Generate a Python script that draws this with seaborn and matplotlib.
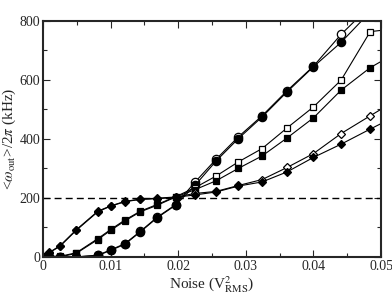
import numpy as np
import pandas as pd
import matplotlib
matplotlib.use('Agg')
import matplotlib.pyplot as plt
import seaborn as sns

# noise values (V_RMS^2)
noise = [0, 0.0009, 0.0025, 0.0049, 0.0081, 0.01, 0.0121, 0.0144, 0.0169,
         0.0196, 0.0225, 0.0256, 0.0289, 0.0324, 0.0361, 0.04, 0.0441, 0.0484, 0.0529]

# output frequency (kHz)
circle_open = [0, 0, 0, 0, 6, 24, 45, 87, 135, 177, 254, 331, 407, 478, 563, 646, 754, 850, 950]
circle_filled = [0, 0, 0, 0, 5, 22, 43, 85, 133, 175, 243, 325, 401, 474, 559, 644, 727, 830, 930]
square_open = [0, 3, 2, 14, 62, 93, 125, 155, 178, 204, 235, 274, 322, 367, 437, 508, 599, 763, 775]
square_filled = [0, 2, 0, 12, 59, 90, 122, 153, 175, 203, 228, 258, 300, 342, 403, 471, 565, 641, 700]
diamond_open = [0, 15, 38, 92, 155, 173, 188, 196, 199, 203, 215, 222, 242, 262, 303, 350, 418, 478, 540]
diamond_filled = [0, 14, 36, 90, 153, 172, 187, 195, 197, 202, 210, 220, 240, 254, 288, 337, 382, 433, 485]

series = [
    (circle_open, 'o', 'white', 6),
    (circle_filled, 'o', 'black', 6),
    (square_open, 's', 'white', 5),
    (square_filled, 's', 'black', 5),
    (diamond_open, 'D', 'white', 4.5),
    (diamond_filled, 'D', 'black', 4.5),
]

sns.set_style('ticks')
plt.rcParams['font.family'] = ['Liberation Serif', 'DejaVu Serif']
plt.rcParams['mathtext.fontset'] = 'stix'

fig = plt.figure(figsize=(3.92, 2.96), dpi=100)
ax = fig.add_axes([0.110, 0.132, 0.862, 0.798])

for vals, mk, face, ms in series:
    sns.lineplot(x=noise, y=vals, ax=ax, color='black', linewidth=0.8,
                 marker=mk, markersize=ms, markerfacecolor=face,
                 markeredgecolor='black', markeredgewidth=0.9)

ax.axhline(200, color='black', linestyle='--', linewidth=1.0, dashes=(5, 3))

ax.set_xlim(0, 0.05)
ax.set_ylim(0, 800)
ax.set_xticks([0, 0.01, 0.02, 0.03, 0.04, 0.05])
ax.set_xticklabels(['0', '0.01', '0.02', '0.03', '0.04', '0.05'])
ax.set_yticks([0, 200, 400, 600, 800])
ax.set_xticks(np.arange(0, 0.0501, 0.005), minor=True)
ax.set_yticks(np.arange(0, 801, 100), minor=True)
ax.tick_params(which='both', direction='in', top=True, right=True, labelsize=10, pad=2)
ax.tick_params(which='major', length=5, width=0.8)
ax.tick_params(which='minor', length=3, width=0.8)
for s in ax.spines.values():
    s.set_linewidth(1.5)

ax.set_xlabel(r'Noise (V$^2_{\rm RMS}$)', fontsize=11, labelpad=1)
ax.set_ylabel(r'<$\omega_{\rm out}$>/2$\pi$ (kHz)', fontsize=11, labelpad=1)

fig.savefig('out.png', dpi=100)
